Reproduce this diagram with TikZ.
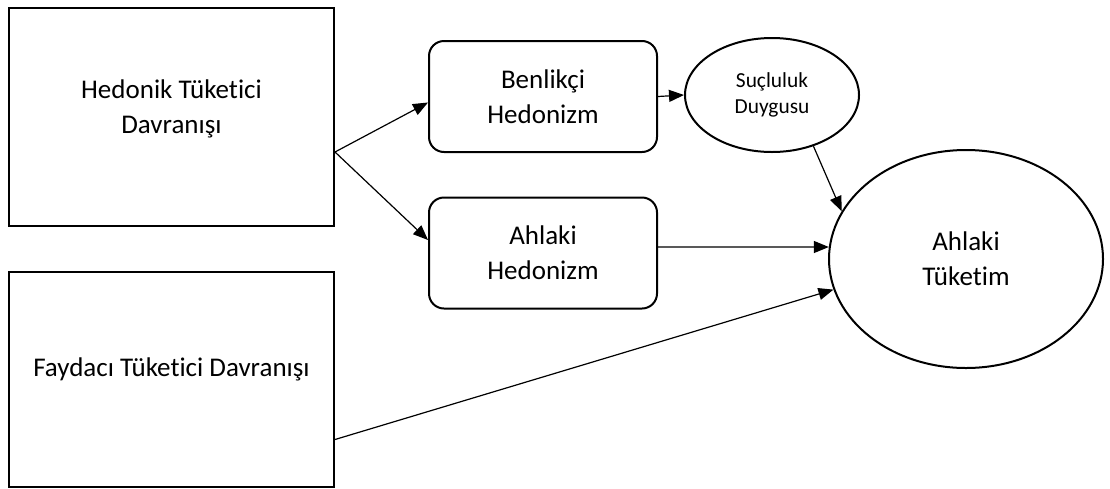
\documentclass[tikz,border=0pt]{standalone}
\usepackage{fontspec}
\setmainfont{Carlito}[Ligatures=NoCommon]
\usepackage{xcolor}
\usetikzlibrary{arrows.meta,shapes.geometric}

\tikzset{
  bigbox/.style={draw,line width=2pt,minimum width=325pt,inner sep=0pt},
  hedbox/.style={draw,line width=2pt,rounded corners=15pt,minimum width=228pt,minimum height=111pt,
    align=center,font=\fontsize{27}{35}\selectfont},
  oval/.style={draw,line width=2pt,ellipse,inner sep=0pt,align=center},
  bigtxt/.style={align=center,font=\fontsize{27}{35}\selectfont},
  arr/.style={line width=1.2pt,-{Triangle[length=15pt,width=12pt]}}
}

\begin{document}
\begin{tikzpicture}[x=1pt,y=-1pt]
\useasboundingbox (0,0) rectangle (1110,488);
% left boxes
\node[bigbox,minimum height=218pt] (hedonik) at (171.5,117) {};
\node[bigtxt] (hedonikTxt) at ([yshift=8pt]hedonik.center) {Hedonik Tüketici\\Davranışı};
\node[bigbox,minimum height=215pt] (faydaci) at (171.5,379.5) {};
\node[bigtxt] (faydaciTxt) at ([yshift=10pt]faydaci.center) {Faydacı Tüketici Davranışı};
% middle
\node[hedbox] (benlikci) at (543,96.5) {Benlikçi\\Hedonizm};
\node[hedbox] (ahlakiH) at (543,253) {Ahlaki\\Hedonizm};
% ovals
\node[oval,minimum width=174pt,minimum height=114pt,font=\fontsize{21.4}{26}\selectfont] (sucluluk) at (772,95) {Suçluluk\\Duygusu};
\node[oval,minimum width=274pt,minimum height=218pt,font=\fontsize{27}{35}\selectfont] (tuketim) at (966,259) {Ahlaki\\Tüketim};
% arrows
\coordinate (split) at ([yshift=-35pt]hedonik.east);
\draw[arr] (split) -- ([yshift=-6pt]benlikci.west);
\draw[arr] (split) -- ([yshift=13pt]ahlakiH.west);
\draw[arr] (benlikci.east) -- (sucluluk.west);
\draw[arr] (sucluluk.-51) -- (tuketim.159);
\draw[arr] ([yshift=6pt]ahlakiH.east) -- (tuketim.175);
\draw[arr] ([yshift=-60pt]faydaci.east) -- (tuketim.193);
\end{tikzpicture}
\end{document}
